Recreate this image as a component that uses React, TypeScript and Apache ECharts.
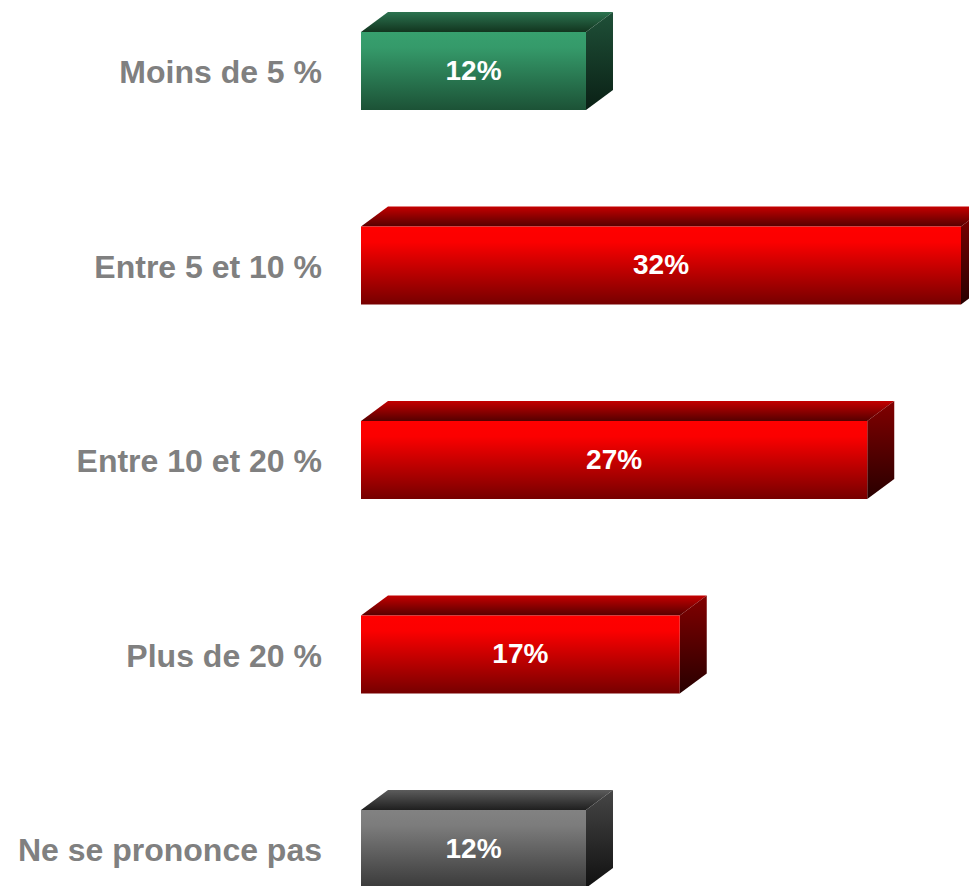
import React, { useEffect, useRef } from "react";
import * as echarts from "echarts";

const categories = ["Moins de 5 %", "Entre 5 et 10 %", "Entre 10 et 20 %", "Plus de 20 %", "Ne se prononce pas"];
const values = [12, 32, 27, 17, 12];
const colorGroup = [0, 1, 1, 1, 2];

const palettes = [
  { front: ["#37a06e", "#359a6a", "#1c5236"], top: ["#2c7350", "#12351f"], side: ["#1f5038", "#0a2015"] },
  { front: ["#ff0000", "#fb0000", "#760000"], top: ["#c40000", "#560000"], side: ["#820000", "#280000"] },
  { front: ["#828282", "#7c7c7c", "#3a3a3a"], top: ["#5c5c5c", "#1f1f1f"], side: ["#464646", "#101010"] },
];

const DX = 27;
const DY = 20;
const H = 78;
const FONT = "'Liberation Sans', Arial, sans-serif";

function vgrad(c0: string, c1: string, c2?: string) {
  const stops = c2
    ? [
        { offset: 0, color: c0 },
        { offset: 0.2, color: c1 },
        { offset: 1, color: c2 },
      ]
    : [
        { offset: 0, color: c0 },
        { offset: 1, color: c1 },
      ];
  return new echarts.graphic.LinearGradient(0, 0, 0, 1, stops);
}

export default function App() {
  const ref = useRef<HTMLDivElement>(null);
  useEffect(() => {
    document.body.style.margin = "0";
    const chart = echarts.init(ref.current!, null, { renderer: "svg" });
    chart.setOption({
      animation: false,
      grid: { left: 361, right: 0, top: 0, bottom: 0, containLabel: false },
      xAxis: { type: "value", min: 0, max: 32.4267, show: false },
      yAxis: { type: "value", inverse: true, min: -0.36504, max: 4.19023, show: false },
      series: [
        {
          type: "custom",
          data: values.map((v, i) => [v, i]),
          encode: { x: 0, y: 1 },
          clip: false,
          renderItem: (params: any, api: any) => {
            const v = api.value(0);
            const i = api.value(1);
            const p0 = api.coord([0, i]);
            const p1 = api.coord([v, i]);
            const x0 = p0[0];
            const x1 = p1[0];
            const top = p1[1] - H / 2;
            const pal = palettes[colorGroup[params.dataIndex]];
            return {
              type: "group",
              children: [
                {
                  type: "polygon",
                  shape: { points: [[x0, top], [x0 + DX, top - DY], [x1 + DX, top - DY], [x1, top]] },
                  style: { fill: vgrad(pal.top[0], pal.top[1]) },
                },
                {
                  type: "polygon",
                  shape: { points: [[x1, top], [x1 + DX, top - DY], [x1 + DX, top - DY + H], [x1, top + H]] },
                  style: { fill: vgrad(pal.side[0], pal.side[1]) },
                },
                {
                  type: "rect",
                  shape: { x: x0, y: top, width: x1 - x0, height: H },
                  style: { fill: vgrad(pal.front[0], pal.front[1], pal.front[2]) },
                },
                {
                  type: "text",
                  x: (x0 + x1) / 2,
                  y: top + H / 2 - 1,
                  style: {
                    text: v + "%",
                    fill: "#ffffff",
                    fontSize: 28,
                    fontWeight: "bold",
                    fontFamily: FONT,
                    align: "center",
                    verticalAlign: "middle",
                  },
                },
                {
                  type: "text",
                  x: x0 - 39,
                  y: top + H / 2 + 1,
                  style: {
                    text: categories[params.dataIndex],
                    fill: "#808080",
                    fontSize: 32,
                    fontWeight: "bold",
                    fontFamily: FONT,
                    align: "right",
                    verticalAlign: "middle",
                  },
                },
              ],
            };
          },
        },
      ],
    });
    return () => chart.dispose();
  }, []);
  return <div ref={ref} style={{ width: 969, height: 886 }} />;
}
